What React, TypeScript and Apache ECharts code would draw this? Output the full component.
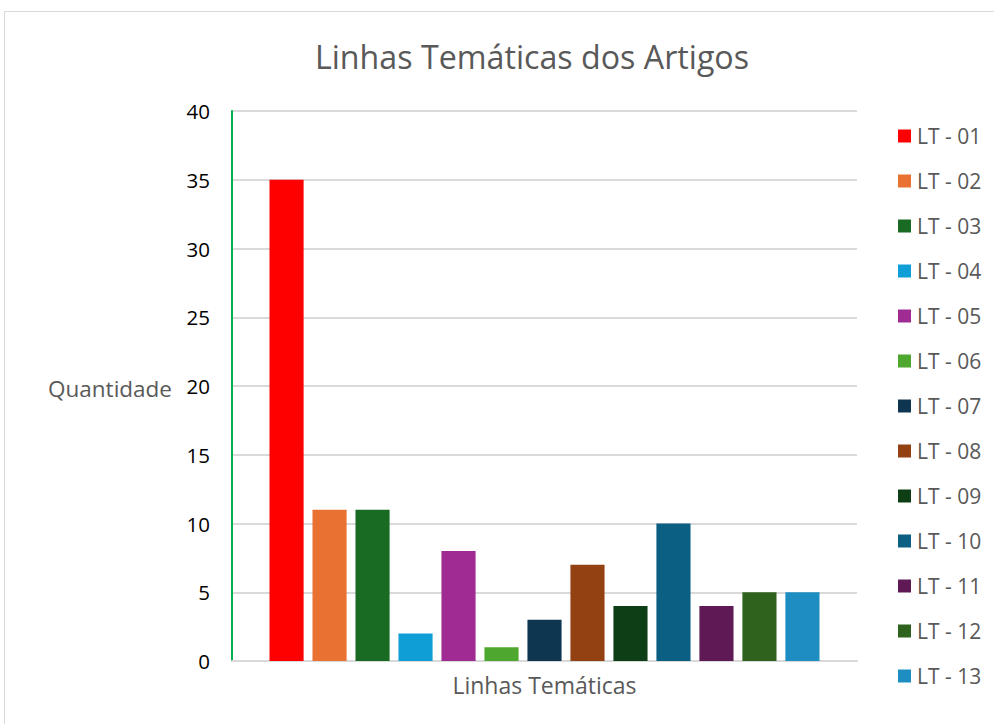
import React, { useEffect, useRef } from "react";
import * as echarts from "echarts";

const seriesNames = ["LT - 01", "LT - 02", "LT - 03", "LT - 04", "LT - 05", "LT - 06", "LT - 07", "LT - 08", "LT - 09", "LT - 10", "LT - 11", "LT - 12", "LT - 13"];
const seriesValues = [35, 11, 11, 2, 8, 1, 3, 7, 4, 10, 4, 5, 5];
const seriesColors = ["#FF0000", "#E97132", "#196B24", "#0F9ED5", "#A02B93", "#4EA72E", "#0E3650", "#934012", "#0D3E16", "#0A5F82", "#5F1A56", "#2F621C", "#1E8DC2"];
const categories = [""];
const yTicks = { min: 0, max: 40, interval: 5 };

export default function App() {
  const ref = useRef<HTMLDivElement>(null);
  useEffect(() => {
    const chart = echarts.init(ref.current!, null, { renderer: "svg" });
    const font = "'Open Sans', 'Noto Sans', sans-serif";
    chart.setOption({
      animation: false,
      backgroundColor: "#ffffff",
      textStyle: { fontFamily: font },
      title: {
        text: "Linhas Temáticas dos Artigos",
        left: 527,
        textAlign: "center",
        top: 35,
        textStyle: { fontSize: 32.2, fontWeight: "normal", color: "#595959", fontFamily: font },
      },
      graphic: [
        {
          type: "rect",
          shape: { x: 4.5, y: 11.5, width: 1100, height: 800 },
          style: { fill: "none", stroke: "#d9d9d9", lineWidth: 1 },
          silent: true,
        },
        {
          type: "text",
          x: 172,
          y: 388,
          style: { text: "Quantidade", fontSize: 22.5, fill: "#595959", align: "right", verticalAlign: "middle", fontFamily: font },
        },
      ],
      legend: {
        orient: "vertical",
        left: 893,
        top: 119,
        itemWidth: 13,
        itemHeight: 13,
        itemGap: 21,
        icon: "rect",
        textStyle: { fontSize: 21, color: "#595959", lineHeight: 24, fontFamily: font, padding: [0, 0, 0, 1] },
        data: seriesNames,
      },
      grid: { left: 232, right: 137, top: 111, bottom: 63 },
      xAxis: {
        type: "category",
        data: categories,
        name: "Linhas Temáticas",
        nameLocation: "middle",
        nameGap: 12,
        nameTextStyle: { fontSize: 23, color: "#595959", fontFamily: font },
        axisLine: { show: true, lineStyle: { color: "#d9d9d9", width: 2 } },
        axisTick: { show: false },
        axisLabel: { show: false },
      },
      yAxis: {
        type: "value",
        min: yTicks.min,
        max: yTicks.max,
        interval: yTicks.interval,
        axisLine: { show: true, lineStyle: { color: "#00B050", width: 2 } },
        axisTick: { show: false },
        axisLabel: { fontSize: 20.5, color: "#000000", margin: 22, fontFamily: font },
        splitLine: { lineStyle: { color: "#d9d9d9", width: 2 } },
      },
      series: seriesNames.map((name, i) => ({
        name,
        type: "bar",
        data: [seriesValues[i]],
        itemStyle: { color: seriesColors[i] },
        barGap: "26%",
        barCategoryGap: "12%",
      })),
    });
    return () => chart.dispose();
  }, []);
  return <div ref={ref} style={{ position: "absolute", left: 0, top: 0, width: 994, height: 724 }} />;
}
